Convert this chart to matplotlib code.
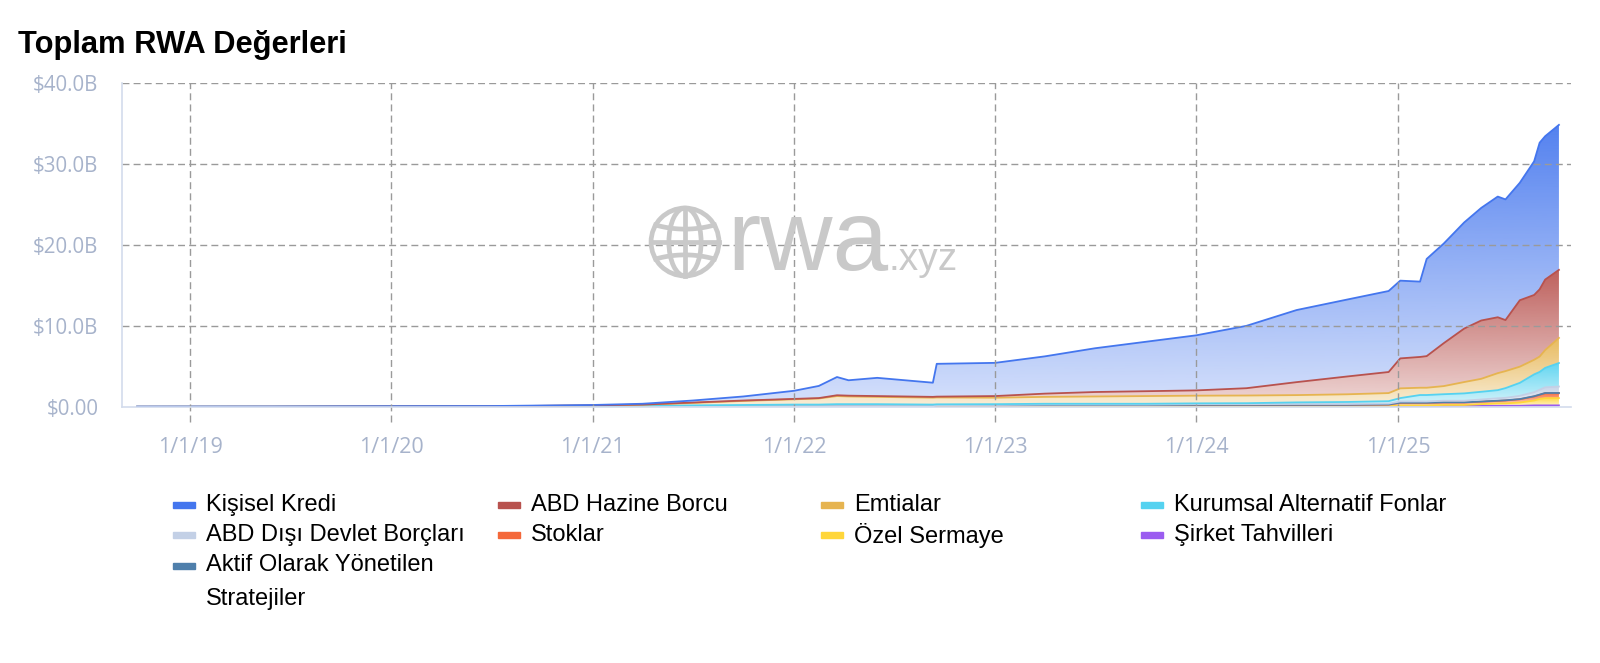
import matplotlib
matplotlib.use("Agg")
import matplotlib.pyplot as plt
import matplotlib.dates as mdates
from matplotlib.colors import to_rgb
from matplotlib.patches import Circle, Ellipse, Rectangle, PathPatch
import numpy as np
import pandas as pd

# dates (step points included)
dates = pd.to_datetime([
    "2018-09-27", "2019-06-01", "2020-01-01", "2020-07-01", "2021-01-01",
    "2021-04-01", "2021-07-01", "2021-10-01", "2022-01-01", "2022-02-15",
    "2022-03-20", "2022-04-10", "2022-06-01", "2022-09-10", "2022-09-17",
    "2023-01-01", "2023-04-01", "2023-07-01", "2023-10-01", "2024-01-01",
    "2024-04-01", "2024-07-01", "2024-10-01", "2024-12-15", "2025-01-05",
    "2025-02-10", "2025-02-22", "2025-03-25", "2025-05-01", "2025-06-01",
    "2025-07-01", "2025-07-15", "2025-08-10", "2025-09-05", "2025-09-15",
    "2025-09-25", "2025-10-20",
])

# values in $B, per asset class (bottom of stack first)
sirket = [0, 0, 0, 0, 0, 0, 0, 0, 0, 0, 0, 0, 0, 0, .08,
          .08, .08, .08, .08, .1, .1, .1, .1, .1, .15,
          .15, .15, .15, .15, .15, .15, .15, .15, .2, .2, .2, .2]
ozel = [0, 0, 0, 0, 0, 0, 0, 0, 0, 0, 0, 0, 0, 0, 0,
        0, 0, 0, 0, 0, 0, 0, 0, 0, .05,
        .05, .05, .1, .1, .2, .3, .3, .4, .6, .8, .9, .9]
stoklar = [0, 0, 0, 0, 0, 0, .03, .03, .05, .05, .05, .05, .05, .05, .1,
           .1, .15, .15, .15, .15, .15, .15, .15, .2, .3,
           .3, .3, .3, .3, .3, .3, .35, .4, .5, .5, .6, .6]
aktif = [0, .01, .01, .01, .02, .02, .02, .02, .02, .02, .02, .02, .02, .02, .02,
         .02, .02, .02, .02, .02, .02, .02, .02, .02, .03,
         .03, .03, .03, .03, .03, .03, .03, .03, .03, .03, .03, .03]
abd_disi = [0, 0, 0, 0, 0, 0, 0, .02, .03, .03, .03, .03, .03, .03, .03,
            .05, .05, .05, .05, .08, .08, .1, .1, .1, .15,
            .15, .15, .2, .2, .25, .3, .3, .4, .5, .6, .7, .8]
kurumsal = [.03, .03, .05, .06, .08, .13, .15, .18, .2, .2, .25, .25, .25, .2, .1,
            .1, .1, .1, .1, .1, .12, .2, .25, .3, .42,
            .8, .8, .8, .9, .95, 1.0, 1.2, 1.6, 2.2, 2.2, 2.4, 2.9]
emtialar = [0, 0, .01, .02, .08, .13, .3, .5, .65, .75, 1.0, .95, .9, .85, .85,
            .8, .85, .9, .95, .95, .95, .9, .95, 1.0, 1.2,
            .9, .9, 1.0, 1.4, 1.6, 2.1, 2.1, 2.0, 1.8, 1.9, 2.2, 3.1]
hazine = [0, 0, 0, 0, .02, .02, .05, .05, .05, .05, .1, .1, .1, .1, .1,
          .2, .4, .55, .6, .65, .9, 1.6, 2.2, 2.6, 3.7,
          3.8, 3.9, 5.3, 6.6, 7.2, 6.9, 6.3, 8.2, 8.0, 8.3, 8.7, 8.4]
kisisel = [.02, .02, .03, .03, .05, .1, .25, .5, 1.0, 1.5, 2.25, 1.9, 2.25, 1.75, 4.05,
           4.1, 4.6, 5.4, 6.1, 6.8, 7.7, 8.9, 9.5, 10.0, 9.6,
           9.3, 12.0, 12.3, 13.1, 13.9, 14.9, 14.9, 14.5, 16.5, 18.1, 17.7, 17.9]

series = [
    ("Şirket Tahvilleri", sirket, "#9b5cf0"),
    ("Özel Sermaye", ozel, "#ffd63a"),
    ("Stoklar", stoklar, "#f4683a"),
    ("Aktif Olarak Yönetilen Stratejiler", aktif, "#4f7fab"),
    ("ABD Dışı Devlet Borçları", abd_disi, "#c3d0e6"),
    ("Kurumsal Alternatif Fonlar", kurumsal, "#55d2f0"),
    ("Emtialar", emtialar, "#e6b450"),
    ("ABD Hazine Borcu", hazine, "#b8524e"),
    ("Kişisel Kredi", kisisel, "#4476ee"),
]

legend_rows = [
    ["Kişisel Kredi", "ABD Hazine Borcu", "Emtialar", "Kurumsal Alternatif Fonlar"],
    ["ABD Dışı Devlet Borçları", "Stoklar", "Özel Sermaye", "Şirket Tahvilleri"],
    ["Aktif Olarak Yönetilen Stratejiler"],
]

ytick_vals = [0, 10, 20, 30, 40]
ytick_labels = ["$0.00", "$10.0B", "$20.0B", "$30.0B", "$40.0B"]
xtick_dates = pd.to_datetime(["2019-01-01", "2020-01-01", "2021-01-01", "2022-01-01",
                              "2023-01-01", "2024-01-01", "2025-01-01"])
xtick_labels = ["1/1/19", "1/1/20", "1/1/21", "1/1/22", "1/1/23", "1/1/24", "1/1/25"]

W, H = 1600, 663
fig = plt.figure(figsize=(W / 100, H / 100), dpi=100)
ax = fig.add_axes([122 / W, 1 - 407 / H, (1571 - 122) / W, (407 - 83) / H])

x = mdates.date2num(dates)
xt = mdates.date2num(xtick_dates)
day_px = 365.25 / 201.3
xlim = (xt[0] - (190 - 122) * day_px, xt[-1] + (1571 - 1398) * day_px)


def grad_fill(y0, y1, color, z):
    poly = ax.fill_between(x, y0, y1, facecolor="none", edgecolor="none")
    clip = PathPatch(poly.get_paths()[0], transform=ax.transData,
                     facecolor="none", edgecolor="none")
    ax.add_patch(clip)
    n = 256
    img = np.zeros((n, 1, 4))
    img[:, 0, :3] = to_rgb(color)
    img[:, 0, 3] = np.linspace(0.92, 0.22, n)
    im = ax.imshow(img, aspect="auto", origin="upper", zorder=z,
                   extent=[x.min(), x.max(), 0, max(y1.max(), 0.05)])
    im.set_clip_path(clip)


base = np.zeros(len(x))
for i, (name, vals, col) in enumerate(series):
    top = base + np.array(vals)
    grad_fill(base, top, col, 2 + i * 0.1)
    ax.plot(x, top, color=col, lw=1.3, zorder=3 + i * 0.1)
    base = top

ax.set_xlim(*xlim)
ax.set_ylim(0, 40)

# grid
grid_col = "#9a9a9a"
for yv in ytick_vals[1:]:
    ax.axhline(yv, color=grid_col, lw=1, ls=(0, (5, 3)), zorder=5)
for xv in xt:
    ax.plot([xv, xv], [-0.047, 1], transform=ax.get_xaxis_transform(),
            color=grid_col, lw=1, ls=(0, (5, 3)), clip_on=False, zorder=5)

for s in ["top", "right"]:
    ax.spines[s].set_visible(False)
for s in ["left", "bottom"]:
    ax.spines[s].set_color("#d3dcec")
    ax.spines[s].set_linewidth(1.2)
    ax.spines[s].set_zorder(6)

tick_col = "#a7b3cb"
ax.set_yticks(ytick_vals)
ax.set_yticklabels(ytick_labels, fontsize=14.8, color=tick_col, family="Open Sans")
ax.set_xticks(xt)
ax.set_xticklabels(xtick_labels, fontsize=15.5, color=tick_col, family="Open Sans")
ax.tick_params(axis="y", length=0, pad=17)
ax.tick_params(axis="x", length=0, pad=21.5)

# watermark
wm_col = "#c9c9c9"
fig.text(727 / W, 1 - 270 / H, "rwa", fontsize=72, color=wm_col,
         family="Liberation Sans", ha="left", va="baseline", zorder=1)
fig.text(888 / W, 1 - 270 / H, ".xyz", fontsize=28, color=wm_col,
         family="Liberation Sans", ha="left", va="baseline", zorder=1)
gax = fig.add_axes([647 / W, 1 - 280 / H, 76 / W, 76 / H])
gax.set_xlim(-1.12, 1.12)
gax.set_ylim(-1.12, 1.12)
gax.axis("off")
gax.patch.set_alpha(0)
lw = 3.4
gax.add_patch(Circle((0, 0), 1, fill=False, ec=wm_col, lw=lw))
gax.add_patch(Ellipse((0, 0), 0.95, 2, fill=False, ec=wm_col, lw=lw))
gax.plot([0, 0], [-1, 1], color=wm_col, lw=lw)
gax.plot([-1, 1], [0, 0], color=wm_col, lw=lw)
for yy in (0.5, -0.5):
    xx = np.sqrt(1 - yy ** 2)
    t = np.linspace(-xx, xx, 50)
    gax.plot(t, yy - 0.12 * np.sign(yy) * (1 - (t / xx) ** 2), color=wm_col, lw=lw)

# title
fig.text(18 / W, 1 - 45 / H, "Toplam RWA Değerleri", fontsize=22.2, fontweight="bold",
         family="Liberation Sans", ha="left", va="center")

# legend
colors = {n: c for n, _, c in series}
col_x = [173, 498, 821, 1141]
row_y = [505, 535, 566]
for r, row in enumerate(legend_rows):
    for c, name in enumerate(row):
        px, py = col_x[c], row_y[r]
        fig.patches.append(Rectangle((px / W, 1 - (py + 3) / H), 22 / W, 6 / H,
                                     transform=fig.transFigure, color=colors[name]))
        if name.startswith("Aktif"):
            fig.text((px + 33) / W, 1 - (py - 12) / H, "Aktif Olarak Yönetilen\nStratejiler",
                     fontsize=17, family="Liberation Sans", ha="left", va="top",
                     linespacing=1.72)
        else:
            fig.text((px + 33) / W, 1 - py / H, name, fontsize=17,
                     family="Liberation Sans", ha="left", va="center")

fig.savefig("out.png", dpi=100)
